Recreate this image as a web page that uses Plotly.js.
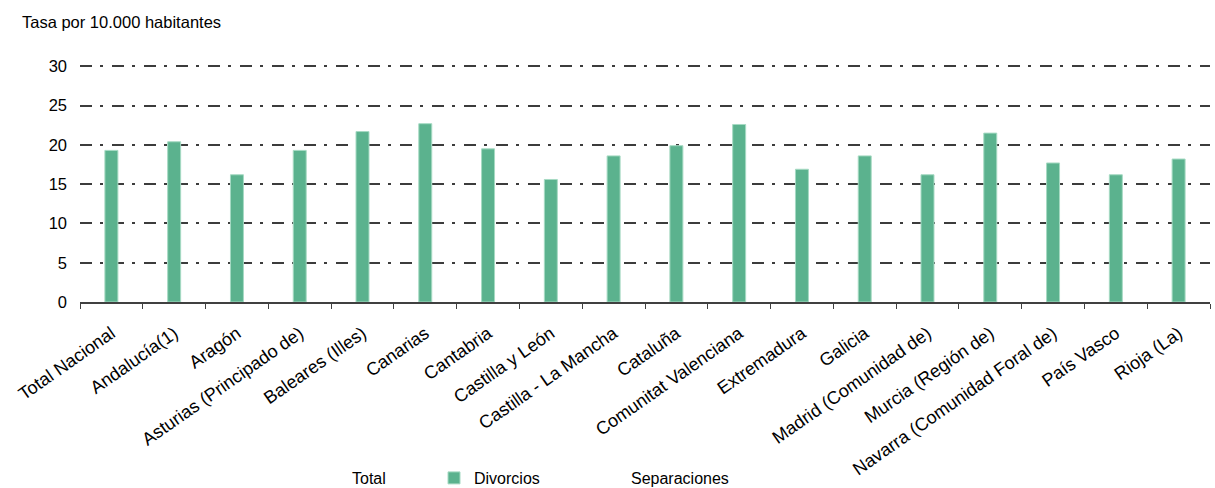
<!DOCTYPE html>
<html>
<head>
<meta charset="utf-8">
<script src="https://cdn.plot.ly/plotly-3.0.1.min.js"></script>
<style>html,body{margin:0;padding:0;background:#fff;}#chart{width:1215px;height:488px;}</style>
</head>
<body>
<div id="chart"></div>
<script>
const categories = ["Total Nacional","Andalucía(1)","Aragón","Asturias (Principado de)","Baleares (Illes)","Canarias","Cantabria","Castilla y León","Castilla - La Mancha","Cataluña","Comunitat Valenciana","Extremadura","Galicia","Madrid (Comunidad de)","Murcia (Región de)","Navarra (Comunidad Foral de)","País Vasco","Rioja (La)"];
const total = categories.map(() => null);
const divorcios = [19.3,20.4,16.2,19.3,21.7,22.7,19.5,15.6,18.6,19.9,22.6,16.9,18.6,16.2,21.5,17.7,16.2,18.2];
const separaciones = categories.map(() => null);
const yTicks = [0,5,10,15,20,25,30];

const font = "Liberation Sans, Arial, sans-serif";
const traces = [
  {type:"bar", name:"Total", x:categories, y:total, legend:"legend",
   marker:{color:"rgba(0,0,0,0)", line:{width:0}}},
  {type:"bar", name:"Divorcios", x:categories, y:divorcios, legend:"legend2",
   marker:{color:"#5bb28e", line:{color:"#a6dac3", width:1}}},
  {type:"bar", name:"Separaciones", x:categories, y:separaciones, legend:"legend3",
   marker:{color:"rgba(0,0,0,0)", line:{width:0}}}
];
const legBase = {orientation:"h", xref:"container", yref:"container", xanchor:"left", yanchor:"middle",
  y: 1 - 478/488, font:{family:font, size:16, color:"#000"}, bgcolor:"rgba(0,0,0,0)", itemwidth:30};
const layout = {
  width:1215, height:488,
  margin:{l:80, r:5, t:64, b:186},
  paper_bgcolor:"#fff", plot_bgcolor:"#fff",
  barmode:"group", bargap:0.38, bargroupgap:0,
  font:{family:font, size:16, color:"#000"},
  title:{text:"Tasa por 10.000 habitantes", xref:"container", yref:"container",
    x:22/1215, xanchor:"left", y:1-22/488, yanchor:"middle",
    font:{family:font, size:16.5, color:"#000"}},
  showlegend:true,
  legend:Object.assign({}, legBase, {x:312/1215}),
  legend2:Object.assign({}, legBase, {x:434/1215}),
  legend3:Object.assign({}, legBase, {x:591/1215}),
  xaxis:{type:"category", showline:true, linecolor:"#404040", linewidth:2,
    ticks:"outside", tickson:"boundaries", ticklen:5, tickcolor:"#404040", tickwidth:1,
    tickangle:-35, ticklabelstandoff:12, tickfont:{family:font, size:18, color:"#000"}, showgrid:false, fixedrange:true},
  yaxis:{range:[0,30.3], tickvals:yTicks, ticktext:yTicks.map(String), showline:false, zeroline:false,
    showgrid:true, gridcolor:"#3c3c3c", gridwidth:2, griddash:"12px,8px,3px,9px",
    ticks:"", ticklabelstandoff:12, tickfont:{family:font, size:16.5, color:"#000"}, fixedrange:true}
};
Plotly.newPlot("chart", traces, layout, {displayModeBar:false, staticPlot:true});
</script>
</body>
</html>
